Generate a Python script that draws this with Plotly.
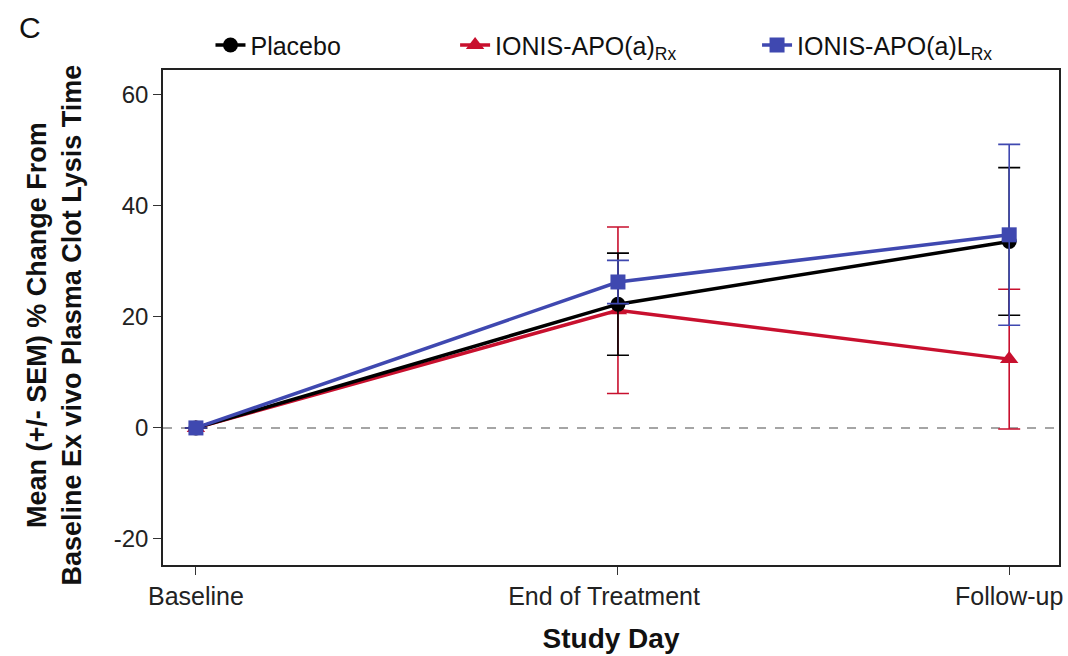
import plotly.graph_objects as go

categories = ["Baseline", "End of Treatment\u00a0\u00a0\u00a0\u00a0", "Follow-up"]
x_positions = [0, 1, 1.927]
y_ticks = [-20, 0, 20, 40, 60]
y_ticktext = ["-20", "0", "20", "40", "60"]

placebo_mean = [0, 22.3, 33.6]
placebo_sem = [0, 9.2, 13.3]
apo_mean = [0, 21.2, 12.4]
apo_sem = [0, 15.0, 12.6]
apol_mean = [0, 26.3, 34.8]
apol_sem = [0, 3.9, 16.3]

BLACK = "#000000"
RED = "#c8102e"
BLUE = "#3f48b0"
FONT = "Liberation Sans, Arial, sans-serif"

fig = go.Figure()

fig.add_shape(type="line", xref="paper", yref="y", x0=0, x1=1, y0=0, y1=0,
              line=dict(color="#888888", width=1.5, dash="dash"), layer="below")

def add_series(name, mean, sem, color, symbol, size, legend):
    fig.add_trace(go.Scatter(
        x=x_positions, y=mean, name=name, mode="lines+markers",
        line=dict(color=color, width=3.5),
        marker=dict(symbol=symbol, size=size, color=color),
        error_y=dict(type="data", array=sem, visible=True, color=color,
                     thickness=1.6, width=11),
        legend=legend, showlegend=True, cliponaxis=False,
    ))

add_series("IONIS-APO(a)<sub>Rx</sub>", apo_mean, apo_sem, RED, "triangle-up", 16, "legend2")
add_series("Placebo", placebo_mean, placebo_sem, BLACK, "circle", 15, "legend")
add_series("IONIS-APO(a)L<sub>Rx</sub>", apol_mean, apol_sem, BLUE, "square", 15, "legend3")

leg_common = dict(orientation="h", yanchor="middle", y=1.05, xanchor="left",
                  font=dict(family=FONT, size=25, color="#111111"),
                  bgcolor="rgba(0,0,0,0)", itemwidth=30)
fig.update_layout(
    showlegend=True,
    legend=dict(x=0.053, **leg_common),
    legend2=dict(x=0.326, **leg_common),
    legend3=dict(x=0.663, **leg_common),
)

fig.update_layout(
    width=1068, height=656,
    margin=dict(l=163, r=5, t=70, b=91),
    plot_bgcolor="white", paper_bgcolor="white",
    font=dict(family=FONT, size=25, color="#222222"),
    xaxis=dict(
        range=[-0.078, 2.045], tickvals=x_positions, ticktext=categories,
        ticks="outside", ticklen=8, tickwidth=1.2, tickcolor="#333333",
        showline=True, linecolor="#222222", linewidth=1.5, mirror=True,
        showgrid=False, zeroline=False,
        tickfont=dict(family=FONT, size=25, color="#222222"),
        title=dict(text="<b>Study Day</b>", font=dict(family=FONT, size=28, color="#111111"),
                   standoff=20),
    ),
    yaxis=dict(
        range=[-24.7, 64.5], tickvals=y_ticks, ticktext=y_ticktext,
        ticks="outside", ticklen=8, tickwidth=1.2, tickcolor="#333333",
        showline=True, linecolor="#222222", linewidth=1.5, mirror=True,
        showgrid=False, zeroline=False,
        tickfont=dict(family=FONT, size=24, color="#222222"),
    ),
    annotations=[
        dict(text="C", xref="paper", yref="paper", x=-0.148, y=1.085,
             xanchor="center", yanchor="middle", showarrow=False,
             font=dict(family=FONT, size=30, color="#111111")),
        dict(text="<b>Mean (+/- SEM) % Change From<br>Baseline Ex vivo Plasma Clot Lysis Time</b>",
             xref="paper", yref="paper", x=-0.121, y=0.485, textangle=-90,
             xanchor="center", yanchor="middle", showarrow=False,
             font=dict(family=FONT, size=27, color="#111111")),
    ],
)

fig.write_html("out.html")
